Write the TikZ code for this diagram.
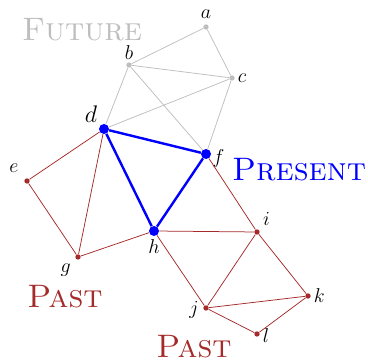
\documentclass[tikz,border=0pt]{standalone}
\usepackage{tikz}
\usepackage{xcolor}
\usetikzlibrary{positioning}
\definecolor{pastc} {RGB}{165, 42, 42}
\definecolor{futc}  {RGB}{190,190,190}
\definecolor{nowc}  {RGB}{  0,  0,255}
\tikzset{
  % Small vertex dots
  FV/.style={circle,fill=futc,inner sep=0pt,minimum size=3.2pt},
  PV/.style={circle,fill=pastc,inner sep=0pt,minimum size=3.2pt},
  % Present vertex
  NV/.style={circle,fill=nowc,inner sep=0pt,minimum size=6pt},
  % Edges
  FE/.style={draw=futc,line width=0.45pt},
  PE/.style={draw=pastc,line width=0.45pt},
  NE/.style={draw=nowc,line width=1.45pt},
  % Region titles
  Ttl/.style={font=\fontsize{19.5}{23}\selectfont\scshape,inner sep=0pt},
  every label/.style={font=\large,inner sep=1.5pt},
}
\begin{document}
\begin{tikzpicture}[x=0.6pt,y=0.6pt]
  \useasboundingbox (0,0) rectangle (368,362);
  % future
  \node[FV,label={[label distance=1.5pt]above:$a$}] (a) at (206,335) {};
  \node[FV,label=above:$b$] (b) at (129,297) {};
  \node[FV,label=right:$c$] (c) at (232,284) {};
  % present
  \node[NV,label={[font=\Large]140:$d$}] (d) at (104,233) {};
  \node[NV,label={[xshift=-1pt,yshift=-3pt]right:$f$}] (f) at (206,208) {};
  \node[NV,label=below:$h$] (h) at (154,131) {};
  % past
  \node[PV,label={[label distance=3pt]135:$e$}] (e) at (27,181) {};
  \node[PV,label={[label distance=2pt]225:$g$}] (g) at (78,105) {};
  \node[PV,label={[label distance=1pt]45:$i$}] (i) at (257,130) {};
  \node[PV,label={[label distance=1pt,yshift=-1pt]left:$j$}] (j) at (206,54) {};
  \node[PV,label=right:$k$] (k) at (308,66) {};
  \node[PV,label={[yshift=-1pt]right:$l$}] (l) at (257,28) {};

  \draw[FE] (a) -- (b) (a) -- (c) (b) -- (c) (b) -- (d) (b) -- (f)
            (c) -- (d) (c) -- (f);
  \draw[PE] (d) -- (e) (d) -- (g) (e) -- (g) (g) -- (h) (h) -- (i)
            (f) -- (i) (h) -- (j) (i) -- (j) (i) -- (k) (j) -- (k)
            (j) -- (l) (l) -- (k);
  \draw[NE] (d) -- (f) -- (h) -- (d);

  \node[Ttl,text=futc]  (fut)  at (82,332)  {Future};
  \node[Ttl,text=nowc]  (now)  at (299,192) {Present};
  \node[Ttl,text=pastc] (past) at (65,65)   {Past};
  \node[Ttl,text=pastc] (pst2) at (194,15)  {Past};
\end{tikzpicture}
\end{document}
